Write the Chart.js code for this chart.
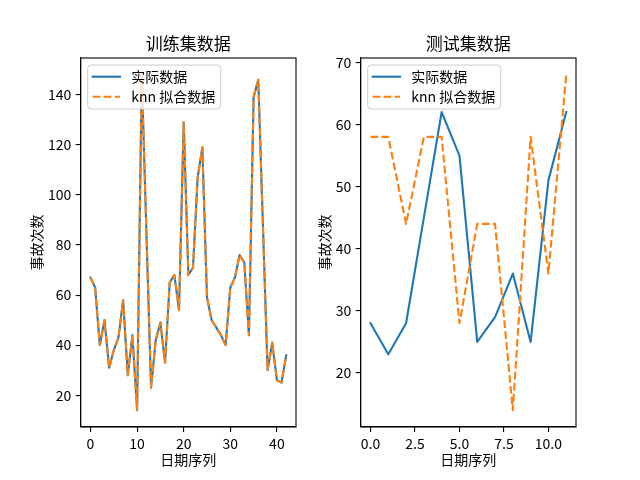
<!DOCTYPE html>
<html>
<head>
<meta charset="utf-8">
<script src="https://cdn.jsdelivr.net/npm/chart.js@4.4.1/dist/chart.umd.min.js"></script>
<style>
html,body{margin:0;padding:0;background:#fff;}
#wrap{position:relative;width:640px;height:480px;overflow:hidden;background:#fff;}
canvas{position:absolute;top:0;}
</style>
</head>
<body>
<div id="wrap">
<canvas id="train" width="300" height="480" style="left:0px"></canvas>
<canvas id="test" width="340" height="480" style="left:300px"></canvas>
</div>
<script>
// ---------------- data ----------------
const seriesNames = ['实际数据', 'knn 拟合数据'];
const titles = ['训练集数据', '测试集数据'];
const xAxisTitle = '日期序列';
const yAxisTitle = '事故次数';

const trainActual = [67,63,40,50,31,38,43,58,28,44,14,148,85,23,42,49,33,65,68,54,129,68,71,107,119,59,50,47,44,40,63,67,76,73,44,139,146,88,30,41,26,25,36];
const trainKnn    = [67,63,40,50,31,38,43,58,28,44,14,148,85,23,42,49,33,65,68,54,129,68,71,107,119,59,50,47,44,40,63,67,76,73,44,139,146,88,30,41,26,25,36];

const testActual = [28,23,28,45,62,55,25,29,36,25,51,62];
const testKnn    = [58,58,44,58,58,28,44,44,14,58,36,68];

const trainXTicks = [0,10,20,30,40];
const trainXTickLabels = ['0','10','20','30','40'];
const trainYTicks = [20,40,60,80,100,120,140];
const trainYTickLabels = ['20','40','60','80','100','120','140'];

const testXTicks = [0,2.5,5,7.5,10];
const testXTickLabels = ['0.0','2.5','5.0','7.5','10.0'];
const testYTicks = [20,30,40,50,60,70];
const testYTickLabels = ['20','30','40','50','60','70'];

// ---------------- styling ----------------
const FONT = "'Noto Sans CJK SC', 'Noto Sans', sans-serif";
Chart.defaults.font.family = FONT;
Chart.defaults.color = '#000';
const BLUE = '#1f77b4', ORANGE = '#ff7f0e';
const LW = 2.1;
const DASH = [7.7, 3.3];

function toPoints(arr){ return arr.map((v,i)=>({x:i, y:v})); }

function roundRect(ctx,x,y,w,h,r){
  ctx.beginPath();
  ctx.moveTo(x+r,y);
  ctx.lineTo(x+w-r,y); ctx.arcTo(x+w,y,x+w,y+r,r);
  ctx.lineTo(x+w,y+h-r); ctx.arcTo(x+w,y+h,x+w-r,y+h,r);
  ctx.lineTo(x+r,y+h); ctx.arcTo(x,y+h,x,y+h-r,r);
  ctx.lineTo(x,y+r); ctx.arcTo(x,y,x+r,y,r);
  ctx.closePath();
}

function decoPlugin(titleText){
  return {
    id:'deco',
    afterDatasetsDraw(chart){
      const ctx = chart.ctx, a = chart.chartArea;
      ctx.save();
      // frame
      ctx.strokeStyle = '#000'; ctx.lineWidth = 1.1;
      ctx.strokeRect(a.left, a.top, a.right-a.left, a.bottom-a.top);
      // legend
      const bx = a.left+7, by = a.top+7, bw = 133, bh = 44;
      roundRect(ctx,bx,by,bw,bh,3.5);
      ctx.fillStyle = 'rgba(255,255,255,0.8)'; ctx.fill();
      ctx.strokeStyle = '#cccccc'; ctx.lineWidth = 1; ctx.stroke();
      const rows = [
        {y:a.top+18.7, color:BLUE, dash:[], name:seriesNames[0], cap:'square'},
        {y:a.top+38.7, color:ORANGE, dash:DASH, name:seriesNames[1], cap:'butt'}
      ];
      rows.forEach(r=>{
        ctx.beginPath();
        ctx.setLineDash(r.dash);
        ctx.lineCap = r.cap;
        ctx.strokeStyle = r.color; ctx.lineWidth = LW;
        ctx.moveTo(a.left+12, r.y); ctx.lineTo(a.left+39.3, r.y);
        ctx.stroke();
        ctx.setLineDash([]);
        ctx.fillStyle = '#000';
        ctx.font = '14px ' + FONT;
        ctx.textAlign = 'left'; ctx.textBaseline = 'middle';
        ctx.fillText(r.name, a.left+50.5, r.y);
      });
      // title
      ctx.font = '17px ' + FONT;
      ctx.textAlign = 'center'; ctx.textBaseline = 'middle';
      ctx.fillStyle = '#000';
      ctx.fillText(titleText, (a.left+a.right)/2, 43.3);
      ctx.restore();
    }
  };
}

function makeChart(id, o){
  const axisCommon = {
    grid:{display:true, drawOnChartArea:false, drawTicks:true, tickLength:5, color:'#000', lineWidth:1.1},
    border:{display:true, color:'#000', width:1.1}
  };
  return new Chart(document.getElementById(id), {
    type:'line',
    data:{
      datasets:[
        {label:seriesNames[0], data:toPoints(o.actual), borderColor:BLUE, backgroundColor:BLUE,
         borderWidth:LW, pointRadius:0, tension:0, fill:false, order:2, borderCapStyle:'square', borderJoinStyle:'round'},
        {label:seriesNames[1], data:toPoints(o.knn), borderColor:ORANGE, backgroundColor:ORANGE,
         borderWidth:LW, pointRadius:0, tension:0, fill:false, order:1, borderDash:DASH, borderCapStyle:'butt', borderJoinStyle:'round'}
      ]
    },
    options:{
      responsive:false, animation:false, devicePixelRatio:1,
      layout:{padding:o.pad},
      plugins:{legend:{display:false}, tooltip:{enabled:false}, title:{display:false}},
      scales:{
        x:Object.assign({}, axisCommon, {
          type:'linear', min:o.xMin, max:o.xMax,
          afterBuildTicks:s=>{ s.ticks = o.xTicks.map(v=>({value:v})); },
          afterFit:s=>{ s.height = o.xHeight; },
          ticks:{font:{size:14}, padding:3, maxRotation:0, autoSkip:false, color:'#000',
                 callback:(v,i)=>o.xTickLabels[i]},
          title:{display:true, text:xAxisTitle, font:{size:14}, color:'#000', padding:0}
        }),
        y:Object.assign({}, axisCommon, {
          type:'linear', min:o.yMin, max:o.yMax,
          afterBuildTicks:s=>{ s.ticks = o.yTicks.map(v=>({value:v})); },
          afterFit:s=>{ s.width = o.yWidth; },
          ticks:{font:{size:14}, padding:4.5, autoSkip:false, color:'#000',
                 callback:(v,i)=>o.yTickLabels[i]},
          title:{display:true, text:yAxisTitle, font:{size:14}, color:'#000', padding:0}
        })
      }
    },
    plugins:[decoPlugin(o.title)]
  });
}

makeChart('train', {
  title:titles[0], actual:trainActual, knn:trainKnn,
  xMin:-2.1, xMax:44.1, yMin:7.3, yMax:154.7,
  xTicks:trainXTicks, xTickLabels:trainXTickLabels,
  yTicks:trainYTicks, yTickLabels:trainYTickLabels,
  pad:{left:28.3, right:4, top:58, bottom:11.6}, yWidth:52.4, xHeight:41.4
});
makeChart('test', {
  title:titles[1], actual:testActual, knn:testKnn,
  xMin:-0.55, xMax:11.55, yMin:11.3, yMax:70.7,
  xTicks:testXTicks, xTickLabels:testXTickLabels,
  yTicks:testYTicks, yTickLabels:testYTickLabels,
  pad:{left:16.6, right:64, top:58, bottom:11.6}, yWidth:44.1, xHeight:41.4
});
</script>
</body>
</html>
